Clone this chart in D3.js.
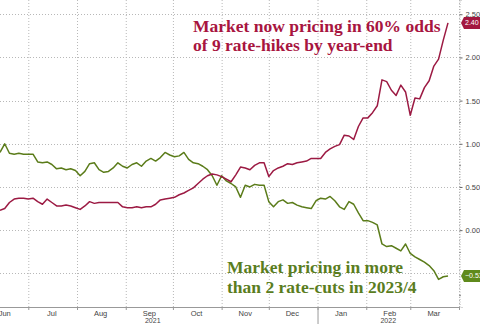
<!DOCTYPE html>
<html>
<head>
<meta charset="utf-8">
<script src="https://cdn.jsdelivr.net/npm/d3@7"></script>
<style>
  body { margin: 0; background: #fff; }
  svg { display: block; }
</style>
</head>
<body>
<svg id="chart"></svg>
<script>
// dates are a regular 3-day index starting here
const startDate = "2021-06-13";
const stepDays = 3;

// implied count of 2022 rate hikes (red)
const hikes = [
  0.23, 0.25, 0.32, 0.36, 0.37, 0.37, 0.36, 0.37, 0.33, 0.30,
  0.36, 0.32, 0.28, 0.28, 0.29, 0.28, 0.26, 0.24, 0.28, 0.33,
  0.31, 0.32, 0.32, 0.32, 0.32, 0.32, 0.27, 0.26, 0.26, 0.27,
  0.26, 0.27, 0.27, 0.30, 0.35, 0.36, 0.37, 0.38, 0.41, 0.43,
  0.46, 0.49, 0.54, 0.59, 0.63, 0.65, 0.64, 0.62, 0.59, 0.56,
  0.64, 0.73, 0.72, 0.70, 0.75, 0.78, 0.78, 0.62, 0.69, 0.72,
  0.74, 0.77, 0.76, 0.78, 0.79, 0.80, 0.83, 0.83, 0.83, 0.90,
  0.94, 0.97, 0.99, 1.10, 1.09, 1.05, 1.20, 1.30, 1.30, 1.36,
  1.44, 1.74, 1.72, 1.62, 1.56, 1.68, 1.60, 1.33, 1.53, 1.52,
  1.65, 1.73, 1.90, 1.98, 2.20, 2.40
];

// implied count of 2023/4 rate cuts (green)
const cuts = [
  0.90, 1.00, 0.89, 0.88, 0.89, 0.88, 0.88, 0.88, 0.79, 0.78,
  0.79, 0.76, 0.71, 0.72, 0.70, 0.71, 0.69, 0.63, 0.68, 0.77,
  0.78, 0.70, 0.67, 0.68, 0.72, 0.78, 0.74, 0.72, 0.76, 0.78,
  0.74, 0.80, 0.83, 0.80, 0.84, 0.90, 0.87, 0.85, 0.86, 0.90,
  0.82, 0.78, 0.77, 0.74, 0.70, 0.63, 0.52, 0.63, 0.57, 0.54,
  0.50, 0.38, 0.52, 0.50, 0.53, 0.52, 0.52, 0.33, 0.27, 0.33,
  0.35, 0.31, 0.32, 0.29, 0.27, 0.26, 0.25, 0.34, 0.37, 0.36,
  0.39, 0.34, 0.27, 0.24, 0.33, 0.30, 0.20, 0.11, 0.11, 0.09,
  0.06, -0.16, -0.19, -0.18, -0.21, -0.24, -0.16, -0.27, -0.31, -0.34,
  -0.37, -0.41, -0.47, -0.57, -0.54, -0.53
];

const yTicks = [-0.5, 0, 0.5, 1, 1.5, 2, 2.5];
const monthLabels = ["Jun", "Jul", "Aug", "Sep", "Oct", "Nov", "Dec", "Jan", "Feb", "Mar"];
const years = ["2021", "2022"];

const redText = ["Market now pricing in 60% odds", "of 9 rate-hikes by year-end"];
const greenText = ["Market pricing in more", "than 2 rate-cuts in 2023/4"];

const w = 480, h = 324;
const plotR = 459, plotB = 307;
const red = "#9c1a43", green = "#5b7c1a";
const sans = "Liberation Sans, Arial, sans-serif";

const parse = d3.timeParse("%Y-%m-%d");
const t0 = parse(startDate);
const dates = hikes.map((_, i) => d3.timeDay.offset(t0, i * stepDays));

const x = d3.scaleTime()
  .domain([t0, new Date(2022, 3, 1)])
  .range([0, plotR]);

const y = d3.scaleLinear()
  .domain([-0.89, 2.665])
  .range([plotB, 0]);

const svg = d3.select("#chart").attr("width", w).attr("height", h);

// grid
const monthStarts = d3.timeMonth.range(new Date(2021, 6, 1), new Date(2022, 3, 2));
svg.append("g")
  .selectAll("line")
  .data(monthStarts)
  .join("line")
  .attr("x1", d => x(d) + 0.5).attr("x2", d => x(d) + 0.5)
  .attr("y1", 0).attr("y2", plotB)
  .attr("stroke", "#b8b8b8")
  .attr("stroke-dasharray", "1,2");

svg.append("g")
  .selectAll("line")
  .data(yTicks)
  .join("line")
  .attr("x1", 0).attr("x2", plotR)
  .attr("y1", d => Math.round(y(d)) + 0.5).attr("y2", d => Math.round(y(d)) + 0.5)
  .attr("stroke", "#b8b8b8")
  .attr("stroke-dasharray", "1,2");

// x axis
svg.append("line")
  .attr("x1", 0).attr("x2", plotR + 1)
  .attr("y1", plotB + 0.5).attr("y2", plotB + 0.5)
  .attr("stroke", "#999");

svg.append("g")
  .selectAll("line")
  .data(monthStarts)
  .join("line")
  .attr("x1", d => x(d) + 0.5).attr("x2", d => x(d) + 0.5)
  .attr("y1", plotB).attr("y2", plotB + 3)
  .attr("stroke", "#999");

// year separator
const jan1 = new Date(2022, 0, 1);
svg.append("line")
  .attr("x1", x(jan1) + 0.5).attr("x2", x(jan1) + 0.5)
  .attr("y1", plotB).attr("y2", h)
  .attr("stroke", "#999");

const monthMid = d3.timeMonth.range(new Date(2021, 5, 1), new Date(2022, 3, 1))
  .map(d => d3.timeDay.offset(d, 15));

svg.append("g")
  .selectAll("text")
  .data(monthMid)
  .join("text")
  .attr("x", d => x(d))
  .attr("y", plotB + 9)
  .attr("text-anchor", "middle")
  .attr("font-family", sans)
  .attr("font-size", 7.5)
  .attr("fill", "#444")
  .text((d, i) => monthLabels[i]);

svg.append("g")
  .selectAll("text")
  .data(years)
  .join("text")
  .attr("x", (d, i) => i === 0 ? x(jan1) / 2 - 6 : (x(jan1) + plotR) / 2)
  .attr("y", plotB + 15.5)
  .attr("text-anchor", "middle")
  .attr("font-family", sans)
  .attr("font-size", 7)
  .attr("fill", "#444")
  .text(d => d);

// right axis
const yAxis = d3.axisRight(y)
  .tickValues(yTicks.filter(v => v >= 0))
  .tickSize(3)
  .tickPadding(3)
  .tickFormat(d3.format(".2f"));

const ax = svg.append("g")
  .attr("transform", `translate(${plotR + 0.5},0)`)
  .call(yAxis);
ax.select(".domain").attr("stroke", "#aaa").attr("stroke-dasharray", "1,1.5");
ax.selectAll(".tick line").attr("stroke", "#666");
ax.selectAll(".tick text")
  .attr("font-family", sans)
  .attr("font-size", 7.5)
  .attr("fill", "#444");

// minor ticks
svg.append("g")
  .selectAll("line")
  .data(d3.range(-0.75, 2.6, 0.25).filter(v => Math.abs(v * 2 - Math.round(v * 2)) > 0.01))
  .join("line")
  .attr("x1", plotR).attr("x2", plotR + 2)
  .attr("y1", d => Math.round(y(d)) + 0.5).attr("y2", d => Math.round(y(d)) + 0.5)
  .attr("stroke", "#999");

// lines
const line = d3.line()
  .x((d, i) => x(dates[i]))
  .y(d => y(d));

svg.append("path")
  .datum(cuts)
  .attr("d", line)
  .attr("fill", "none")
  .attr("stroke", green)
  .attr("stroke-width", 1.5)
  .attr("stroke-linejoin", "round");

svg.append("path")
  .datum(hikes)
  .attr("d", line)
  .attr("fill", "none")
  .attr("stroke", red)
  .attr("stroke-width", 1.5)
  .attr("stroke-linejoin", "round");

// last-value tags
const tags = [
  { v: hikes[hikes.length - 1], c: "#a3173f" },
  { v: cuts[cuts.length - 1], c: "#5f8a1c" }
];
const tag = svg.append("g")
  .selectAll("g")
  .data(tags)
  .join("g")
  .attr("transform", d => `translate(${plotR + 2},${y(d.v)})`);
tag.append("path")
  .attr("d", "M0,0 L3,-6 L30,-6 L30,6 L3,6 Z")
  .attr("fill", d => d.c);
tag.append("text")
  .attr("x", 4)
  .attr("y", 2.5)
  .attr("font-family", sans)
  .attr("font-size", 7)
  .attr("fill", "#fff")
  .text(d => d3.format(".2f")(d.v));

// annotations
const serif = "Liberation Serif, Times New Roman, serif";
svg.append("g")
  .selectAll("text")
  .data(redText)
  .join("text")
  .attr("x", 193)
  .attr("y", (d, i) => 32 + i * 19)
  .attr("font-family", serif)
  .attr("font-weight", "bold")
  .attr("font-size", 17.5)
  .attr("fill", "#a8153f")
  .text(d => d);

svg.append("g")
  .selectAll("text")
  .data(greenText)
  .join("text")
  .attr("x", 227)
  .attr("y", (d, i) => 273 + i * 20)
  .attr("font-family", serif)
  .attr("font-weight", "bold")
  .attr("font-size", 17.5)
  .attr("fill", "#5a7d1e")
  .text(d => d);
</script>
</body>
</html>
